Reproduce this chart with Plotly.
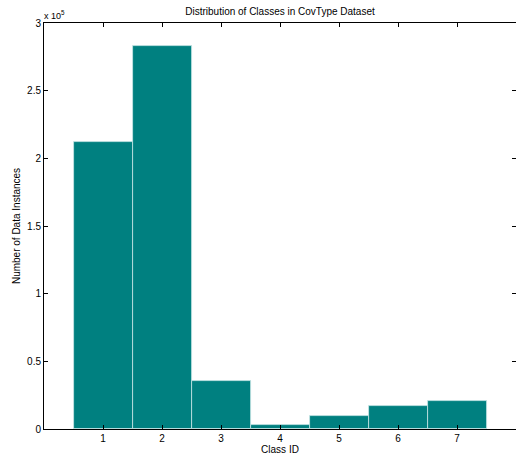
import plotly.graph_objects as go

# Instance counts per forest cover type class
class_ids = [1, 2, 3, 4, 5, 6, 7]
counts = [211840, 283301, 35754, 2747, 9493, 17367, 20510]
y_ticks = [0, 50000, 100000, 150000, 200000, 250000, 300000]
y_tick_labels = ["0", "0.5", "1", "1.5", "2", "2.5", "3"]

FONT = "Liberation Sans, Arial, Helvetica, sans-serif"

fig = go.Figure(
    go.Bar(
        x=class_ids,
        y=counts,
        width=1,
        marker=dict(color="#008080", line=dict(color="#c8e6e6", width=0.8)),
    )
)

axis_common = dict(
    showline=True,
    linecolor="black",
    linewidth=1,
    mirror="ticks",
    ticks="inside",
    ticklen=4,
    tickcolor="black",
    showgrid=False,
    zeroline=False,
    tickfont=dict(family=FONT, size=10, color="black"),
)

fig.update_layout(
    width=516,
    height=459,
    margin=dict(l=44, r=0, t=23, b=30),
    paper_bgcolor="white",
    plot_bgcolor="white",
    showlegend=False,
    bargap=0,
    title=dict(
        text="Distribution of Classes in CovType Dataset",
        x=0.5,
        xref="paper",
        y=1 - 11 / 459,
        yanchor="middle",
        font=dict(family=FONT, size=10, color="black"),
    ),
    xaxis=dict(
        range=[0, 8],
        tickvals=class_ids,
        title=dict(text="Class ID", standoff=2, font=dict(family=FONT, size=10, color="black")),
        **axis_common,
    ),
    yaxis=dict(
        range=[0, 300000],
        tickvals=y_ticks,
        ticktext=y_tick_labels,
        title=dict(text="Number of Data Instances", standoff=4, font=dict(family=FONT, size=10, color="black")),
        **axis_common,
    ),
    annotations=[
        dict(
            text="x 10<sup>5</sup>",
            xref="paper",
            yref="paper",
            x=0,
            y=1,
            xanchor="left",
            yanchor="bottom",
            showarrow=False,
            font=dict(family=FONT, size=9, color="black"),
            xshift=-2,
        )
    ],
)

fig.write_html("out.html")
